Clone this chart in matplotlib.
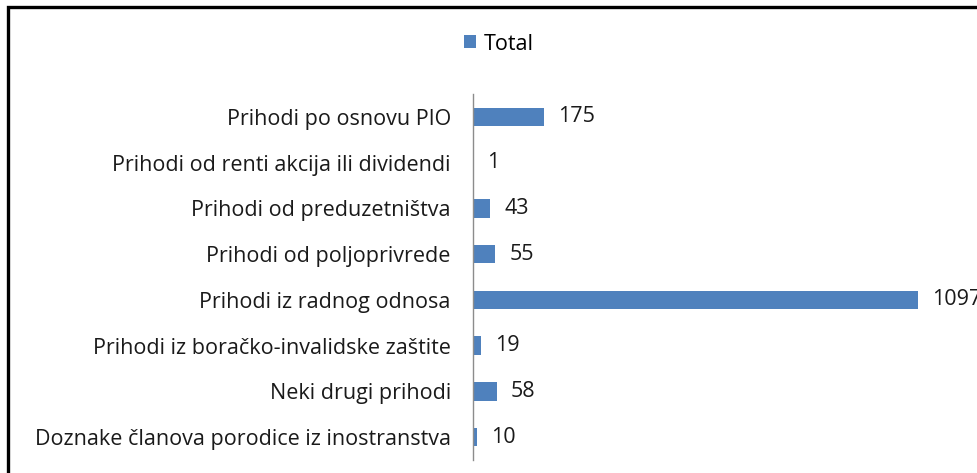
import matplotlib
matplotlib.use("Agg")
import matplotlib.pyplot as plt
from matplotlib.patches import Rectangle, Patch

categories = [
    "Prihodi po osnovu PIO",
    "Prihodi od renti akcija ili dividendi",
    "Prihodi od preduzetništva",
    "Prihodi od poljoprivrede",
    "Prihodi iz radnog odnosa",
    "Prihodi iz boračko-invalidske zaštite",
    "Neki drugi prihodi",
    "Doznake članova porodice iz inostranstva",
]
totals = [175, 1, 43, 55, 1097, 19, 58, 10]
series_name = "Total"

bar_color = "#4F81BD"
plt.rcParams["font.family"] = ["Open Sans", "DejaVu Sans"]
fs = 15.5

W, H = 978, 473
fig = plt.figure(figsize=(W / 100, H / 100), dpi=100)
ax = fig.add_axes([473 / W, 1 - 460 / H, 505 / W, (460 - 94) / H])

y = list(range(len(categories)))
ax.barh(y, totals, height=0.4, color=bar_color)
ax.set_ylim(len(categories) - 0.5, -0.5)
ax.set_xlim(0, 1244)

ax.set_yticks(y)
ax.set_yticklabels(categories, fontsize=fs, color="#1a1a1a")
ax.tick_params(axis="y", length=0, pad=16)
ax.set_xticks([])
for s in ["top", "right", "bottom"]:
    ax.spines[s].set_visible(False)
ax.spines["left"].set_color("#8c8c8c")
ax.spines["left"].set_linewidth(1.0)

for yi, v in zip(y, totals):
    ax.annotate(str(v), (v, yi), xytext=(10, 0), textcoords="offset points",
                va="center", ha="left", fontsize=fs, color="#1a1a1a",
                annotation_clip=False)

handle = Patch(facecolor=bar_color, edgecolor="none")
fig.legend([handle], [series_name], loc="center", bbox_to_anchor=(499 / W, 1 - 44 / H),
           frameon=False, fontsize=fs, handlelength=0.55, handleheight=0.55,
           handletextpad=0.4)

# outer frame (left and top edges visible)
fig.patches.append(Rectangle((8 / W, -0.1), 1.2, 1 - 7 / H + 0.1, transform=fig.transFigure,
                             fill=False, edgecolor="black", linewidth=2.4))

fig.savefig("out.png", dpi=100)
